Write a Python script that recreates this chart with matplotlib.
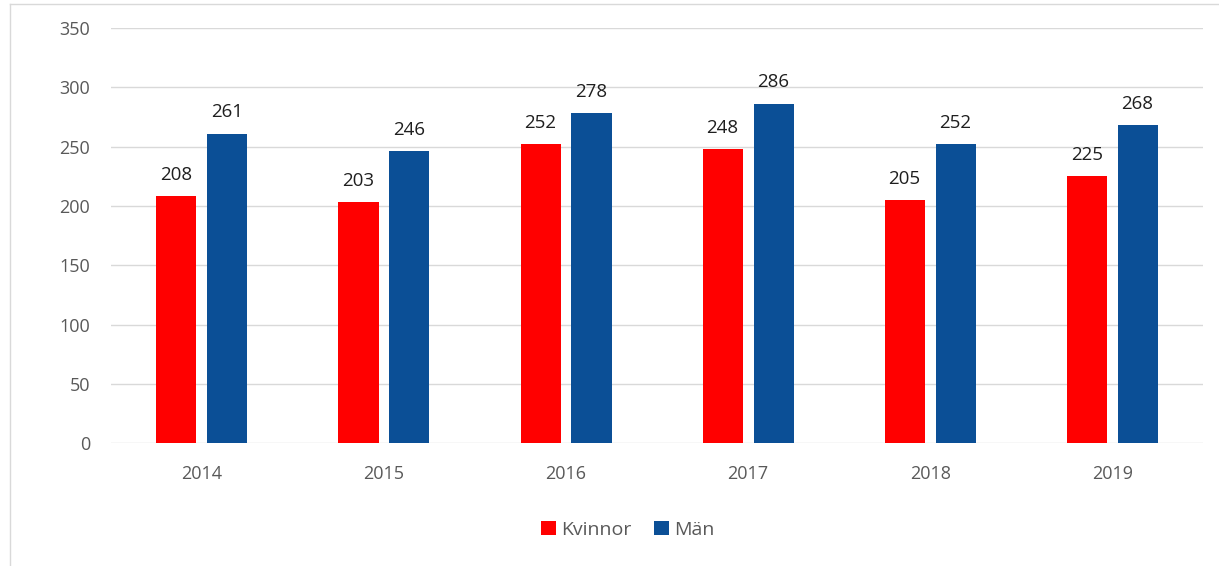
import matplotlib.pyplot as plt
import numpy as np
from matplotlib.lines import Line2D

plt.rcParams['font.family'] = ['Open Sans', 'DejaVu Sans']

years = ['2014', '2015', '2016', '2017', '2018', '2019']
kvinnor = [208, 203, 252, 248, 205, 225]
man = [261, 246, 278, 286, 252, 268]

red = '#FF0000'
blue = '#0B4F96'

fig = plt.figure(figsize=(12.19, 5.66), dpi=100)
ax = fig.add_axes([0.091, 0.217, 0.896, 0.7335])

x = np.arange(len(years))
w = 0.22
off = 0.14
b1 = ax.bar(x - off, kvinnor, w, color=red, label='Kvinnor', zorder=3)
b2 = ax.bar(x + off, man, w, color=blue, label='Män', zorder=3)

for bars in (b1, b2):
    for r in bars:
        ax.annotate(f'{int(r.get_height())}', (r.get_x() + r.get_width() / 2, r.get_height()),
                    xytext=(0, 9), textcoords='offset points', ha='center', va='bottom',
                    fontsize=13.5, color='#1F1F1F')

ax.set_xlim(-0.5, len(years) - 0.5)
ax.set_ylim(0, 350)
ax.set_yticks(range(0, 351, 50))
ax.set_xticks(x)
ax.set_xticklabels(years)
ax.grid(axis='y', color='#D9D9D9', linewidth=1, zorder=0)
for s in ax.spines.values():
    s.set_visible(False)
ax.tick_params(axis='both', length=0, labelsize=13, labelcolor='#595959')
ax.tick_params(axis='x', pad=16)
ax.tick_params(axis='y', pad=15)

fig.legend(handles=[b1, b2], loc='center', bbox_to_anchor=(0.515, 0.064), ncol=2,
           frameon=False, fontsize=14, handlelength=0.75, handleheight=0.75,
           handletextpad=0.25, columnspacing=1.2, labelcolor='#595959')

# outer frame, visible on top and left
fig.add_artist(Line2D([0.008, 0.008], [0, 0.993], transform=fig.transFigure, color='#D9D9D9', lw=1))
fig.add_artist(Line2D([0.008, 1], [0.993, 0.993], transform=fig.transFigure, color='#D9D9D9', lw=1))

fig.savefig('out.png', dpi=100)
